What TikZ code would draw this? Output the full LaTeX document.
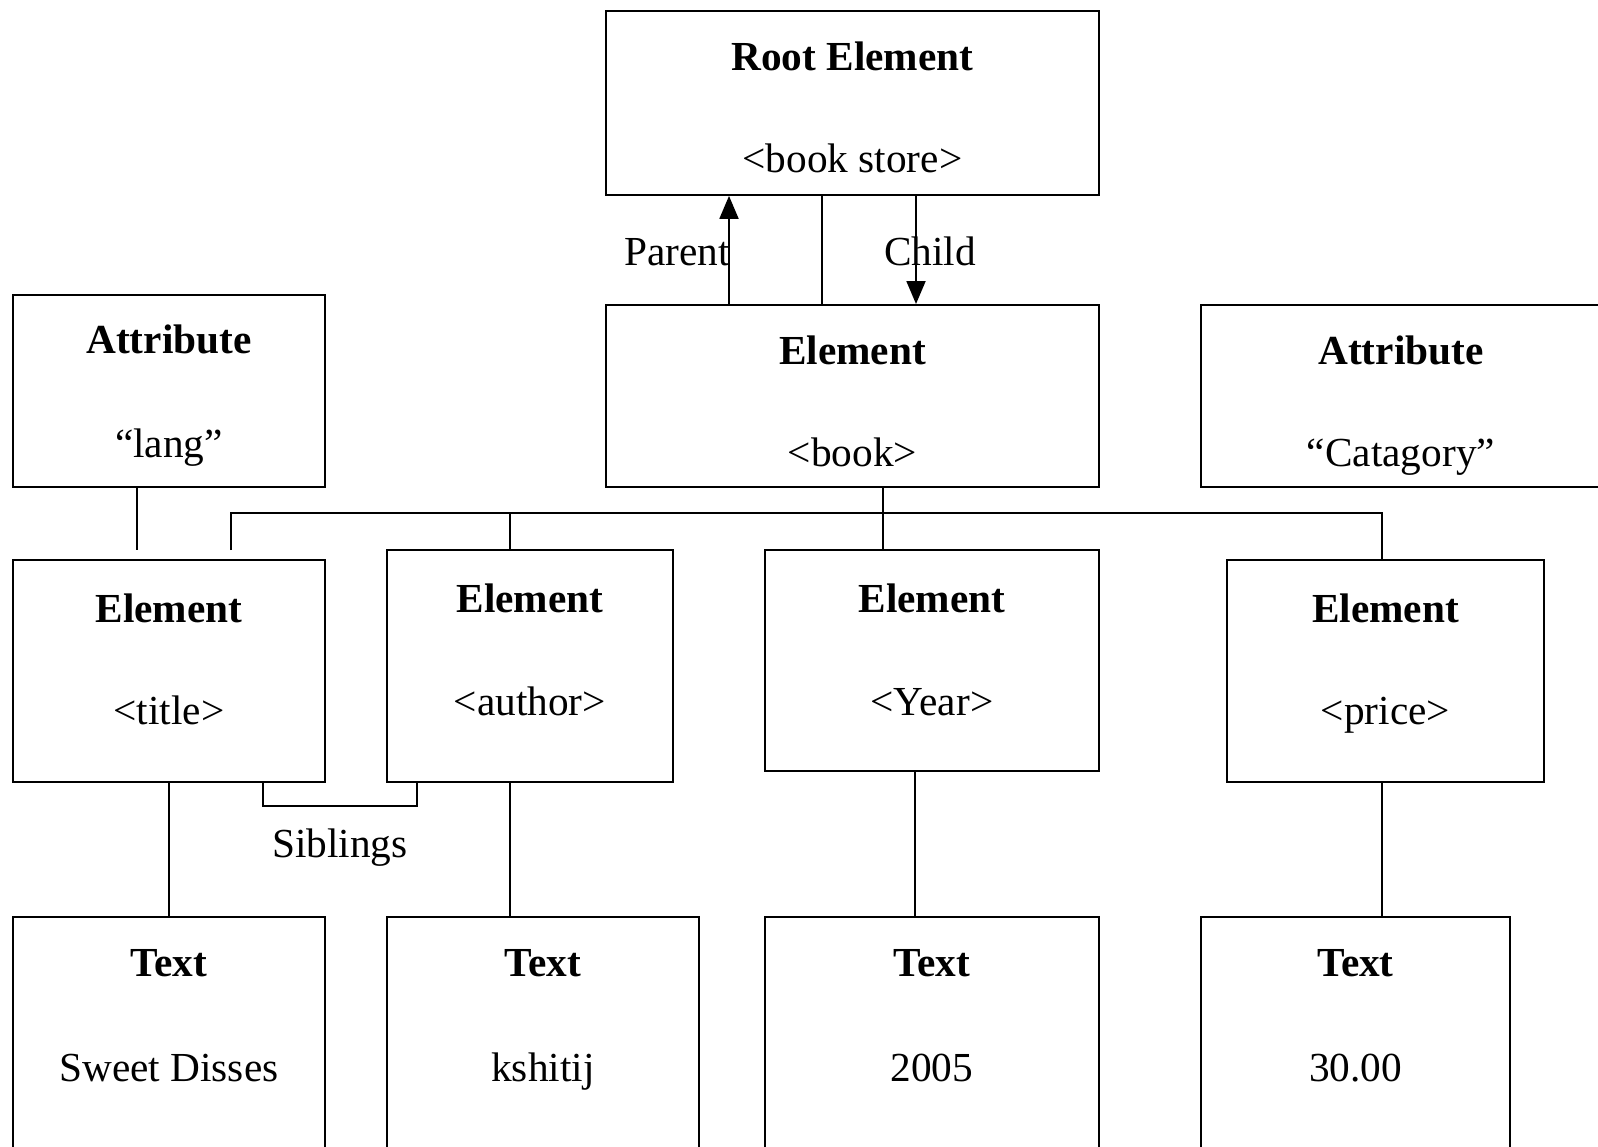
\documentclass[tikz,border=0pt]{standalone}
\usepackage{fontspec}
\setmainfont{Liberation Serif}
\usetikzlibrary{arrows.meta}

\begin{document}
\begin{tikzpicture}[
    x=0.02cm, y=-0.02cm,
    block/.style={rectangle,draw,line width=1.1pt,anchor=north west,inner sep=0pt},
    head/.style={font=\fontsize{23.5}{28}\selectfont\bfseries,inner sep=0pt,text height=0.68em,text depth=0pt},
    tag/.style={font=\fontsize{23.5}{28}\selectfont,inner sep=0pt,text height=0.68em,text depth=0pt},
    link/.style={line width=1.1pt},
    arrow/.style={line width=1.1pt,-{Triangle[length=0.46cm,width=0.38cm]}}
]
    \useasboundingbox (0,0) rectangle (1598,1146);
    \clip (0,0) rectangle (1598,1146);

    % boxes
    \node[block,minimum width=9.86cm,minimum height=3.68cm] (root) at (605,10) {};
    \node[block,minimum width=9.86cm,minimum height=3.64cm] (book) at (605,304) {};
    \node[block,minimum width=6.24cm,minimum height=3.84cm] (lang) at (12,294) {};
    \node[block,minimum width=8.0cm,minimum height=3.64cm] (cat) at (1200,304) {};

    \node[block,minimum width=6.24cm,minimum height=4.44cm] (title) at (12,559) {};
    \node[block,minimum width=5.72cm,minimum height=4.64cm] (author) at (386,549) {};
    \node[block,minimum width=6.68cm,minimum height=4.42cm] (year) at (764,549) {};
    \node[block,minimum width=6.34cm,minimum height=4.44cm] (price) at (1226,559) {};

    \node[block,minimum width=6.24cm,minimum height=5.2cm] (t1) at (12,916) {};
    \node[block,minimum width=6.24cm,minimum height=5.2cm] (t2) at (386,916) {};
    \node[block,minimum width=6.68cm,minimum height=5.2cm] (t3) at (764,916) {};
    \node[block,minimum width=6.18cm,minimum height=5.2cm] (t4) at (1200,916) {};

    % texts inside the boxes
    \node[head] (rootH) at ([yshift=-1.1cm]root.north) {Root Element};
    \node[tag] (rootT) at ([yshift=-3.14cm]root.north) {<book store>};
    \node[head] (bookH) at ([yshift=-1.1cm]book.north) {Element};
    \node[tag] (bookT) at ([yshift=-3.14cm]book.north) {<book>};
    \node[head] (langH) at ([yshift=-1.08cm]lang.north) {Attribute};
    \node[tag] (langT) at ([yshift=-3.16cm]lang.north) {“lang”};
    \node[head] (catH) at ([yshift=-1.1cm]cat.north) {Attribute};
    \node[tag] (catT) at ([yshift=-3.14cm]cat.north) {“Catagory”};

    \node[head] (titleH) at ([yshift=-1.16cm]title.north) {Element};
    \node[tag] (titleT) at ([yshift=-3.2cm]title.north) {<title>};
    \node[head] (authorH) at ([yshift=-1.16cm]author.north) {Element};
    \node[tag] (authorT) at ([yshift=-3.22cm]author.north) {<author>};
    \node[head] (yearH) at ([yshift=-1.16cm]year.north) {Element};
    \node[tag] (yearT) at ([yshift=-3.22cm]year.north) {<Year>};
    \node[head] (priceH) at ([yshift=-1.16cm]price.north) {Element};
    \node[tag] (priceT) at ([yshift=-3.2cm]price.north) {<price>};

    \node[head] (t1H) at ([yshift=-1.1cm]t1.north) {Text};
    \node[tag] (t1T) at ([yshift=-3.2cm]t1.north) {Sweet Disses};
    \node[head] (t2H) at ([yshift=-1.1cm]t2.north) {Text};
    \node[tag] (t2T) at ([yshift=-3.2cm]t2.north) {kshitij};
    \node[head] (t3H) at ([yshift=-1.1cm]t3.north) {Text};
    \node[tag] (t3T) at ([yshift=-3.2cm]t3.north) {2005};
    \node[head] (t4H) at ([yshift=-1.1cm]t4.north) {Text};
    \node[tag] (t4T) at ([yshift=-3.2cm]t4.north) {30.00};

    % root <-> book
    \coordinate (upx) at (729,0);
    \coordinate (midx) at (822,0);
    \coordinate (downx) at (916,0);
    \draw[arrow] (upx |- book.north) -- (upx |- root.south);
    \draw[link] (midx |- root.south) -- (midx |- book.north);
    \draw[arrow] (downx |- root.south) -- (downx |- book.north);
    \node[tag] (parent) at (677,260) {Parent};
    \node[tag] (child) at (930,260) {Child};

    % book -> children
    \coordinate (busL) at (231,513);
    \coordinate (busR) at (1382,513);
    \coordinate (tstop) at (231,550);
    \coordinate (bookx) at (883,0);
    \coordinate (ax) at (510,0);
    \draw[link] (bookx |- book.south) -- (bookx |- year.north);
    \draw[link] (tstop) -- (busL) -- (busR) -- (busR |- price.north);
    \draw[link] (ax |- busL) -- (ax |- author.north);

    % attribute
    \coordinate (lstop) at (137,550);
    \draw[link] (lstop |- lang.south) -- (lstop);

    % siblings
    \coordinate (sibL) at (263,806);
    \coordinate (sibR) at (417,806);
    \draw[link] (sibL |- title.south) -- (sibL) -- (sibR) -- (sibR |- author.south);
    \node[tag] (sib) at (340,852) {Siblings};

    % element -> text
    \coordinate (yx) at (915,0);
    \draw[link] (title.south) -- (title.south |- t1.north);
    \draw[link] (ax |- author.south) -- (ax |- t2.north);
    \draw[link] (yx |- year.south) -- (yx |- t3.north);
    \draw[link] (busR |- price.south) -- (busR |- t4.north);
\end{tikzpicture}
\end{document}
